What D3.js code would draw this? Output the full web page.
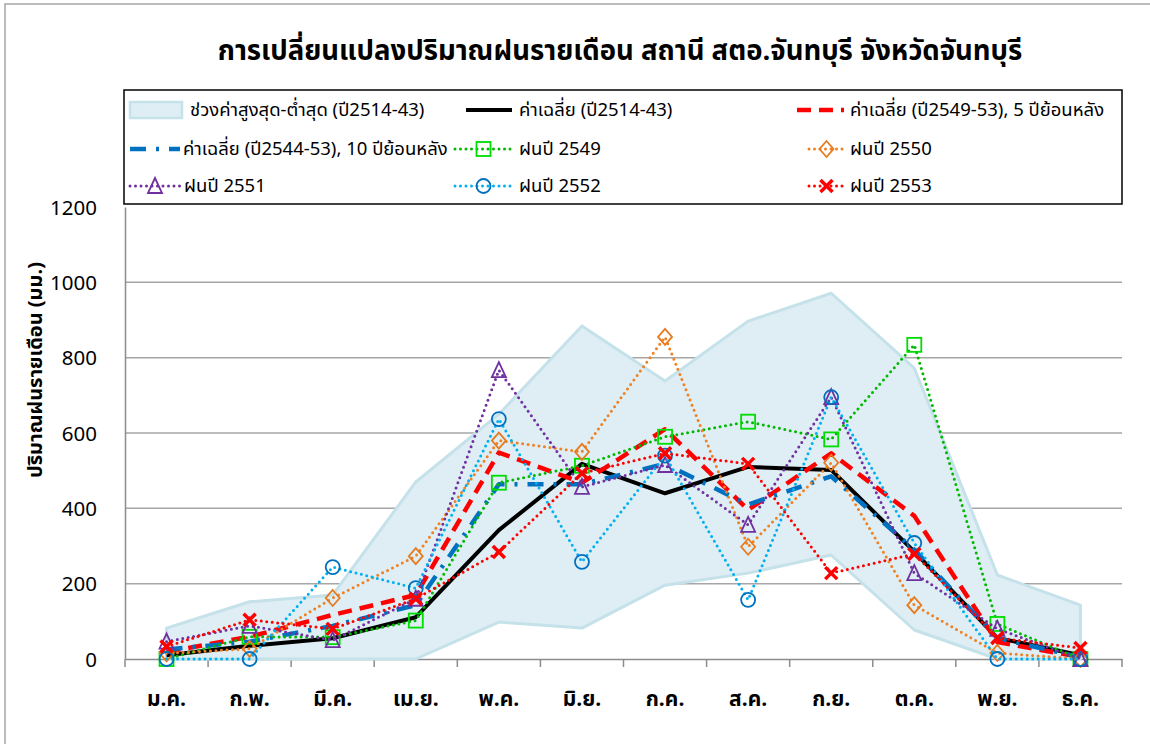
<!DOCTYPE html>
<html>
<head>
<meta charset="utf-8">
<script src="https://cdn.jsdelivr.net/npm/d3@7"></script>
<style>
  html, body { margin: 0; padding: 0; background: #fff; }
  svg text { font-family: Tahoma, "Leelawadee UI", "Noto Sans Thai", "Noto Sans", "DejaVu Sans", sans-serif; fill: #000; }
</style>
</head>
<body>
<svg id="chart" width="1150" height="744"></svg>
<script>
// Monthly rainfall, station สตอ.จันทบุรี (mm)
const months = ["ม.ค.", "ก.พ.", "มี.ค.", "เม.ย.", "พ.ค.", "มิ.ย.", "ก.ค.", "ส.ค.", "ก.ย.", "ต.ค.", "พ.ย.", "ธ.ค."];
const yTicks = [0, 200, 400, 600, 800, 1000, 1200];

const rangeMax = [82, 152, 170, 470, 650, 884, 738, 897, 971, 772, 223, 143];
const rangeMin = [0, 0, 0, 0, 98, 82, 196, 228, 276, 77, 0, 0];
const avg2514_43 = [10, 35, 55, 111, 342, 518, 440, 510, 502, 285, 56, 10];
const avg2549_53 = [19, 59, 117, 170, 548, 468, 610, 396, 546, 380, 45, 5];
const avg2544_53 = [25, 46, 88, 143, 464, 464, 518, 410, 485, 290, 55, 5];
const rain2549 = [0, 59, 58, 102, 468, 513, 590, 630, 583, 834, 93, 0];
const rain2550 = [15, 27, 162, 273, 580, 550, 855, 298, 521, 143, 16, 0];
const rain2551 = [46, 88, 50, 160, 767, 457, 515, 356, 695, 228, 80, 0];
const rain2552 = [0, 0, 244, 188, 637, 258, 540, 157, 695, 308, 0, 0];
const rain2553 = [33, 104, 80, 160, 284, 493, 546, 518, 228, 279, 56, 29];

const svg = d3.select("#chart");

// outer frame
svg.append("rect").attr("x", 5).attr("y", 4).attr("width", 1160).attr("height", 760)
  .attr("fill", "none").attr("stroke", "#a6a6a6").attr("stroke-width", 1.5);

const plot = { left: 125, right: 1122, top: 207, bottom: 659 };

const x = d3.scaleBand().domain(months).range([plot.left, plot.right]).padding(0);
const y = d3.scaleLinear().domain([0, 1200]).range([plot.bottom, plot.top]);
const cx = m => x(m) + x.bandwidth() / 2;

// title
svg.append("text").attr("x", 620).attr("y", 60).attr("text-anchor", "middle")
  .attr("font-size", 27.5).attr("font-weight", "bold")
  .text("การเปลี่ยนแปลงปริมาณฝนรายเดือน สถานี สตอ.จันทบุรี จังหวัดจันทบุรี");

// gridlines
svg.append("g").selectAll("line").data(yTicks.filter(t => t > 0 && t < 1200)).join("line")
  .attr("x1", plot.left).attr("x2", plot.right)
  .attr("y1", d => y(d)).attr("y2", d => y(d))
  .attr("stroke", "#a6a6a6").attr("stroke-width", 1.5);

// y axis
const yAxis = svg.append("g").attr("transform", `translate(${plot.left},0)`)
  .call(d3.axisLeft(y).tickValues(yTicks).tickFormat(d3.format("d")).tickSize(0).tickPadding(28));
yAxis.select(".domain").attr("stroke", "#8c8c8c").attr("stroke-width", 1.5);
yAxis.selectAll("text").attr("font-size", 20.5).attr("font-family", null).attr("dy", "0.35em");

svg.append("text")
  .attr("transform", `translate(42,${(plot.top + plot.bottom) / 2 - 63}) rotate(-90)`)
  .attr("text-anchor", "middle").attr("font-size", 20).attr("font-weight", "bold")
  .text("ปริมาณฝนรายเดือน (มม.)");

// x axis with ticks between months
const xAxis = svg.append("g").attr("transform", `translate(0,${plot.bottom})`)
  .call(d3.axisBottom(x).tickSize(0).tickPadding(32));
xAxis.select(".domain").attr("stroke", "#8c8c8c").attr("stroke-width", 1.5);
xAxis.selectAll("text").attr("font-size", 21).attr("font-weight", "bold").attr("font-family", null);
const edges = months.map(m => x(m)).concat([plot.right]);
svg.append("g").selectAll("line").data(edges).join("line")
  .attr("x1", d => d).attr("x2", d => d).attr("y1", plot.bottom).attr("y2", plot.bottom + 8)
  .attr("stroke", "#8c8c8c").attr("stroke-width", 1.5);

// min-max range band
const area = d3.area().x((d, i) => cx(months[i])).y0((d, i) => y(rangeMin[i])).y1(d => y(d));
svg.append("path").datum(rangeMax).attr("d", area)
  .attr("fill", "#deeef4").attr("stroke", "#c5e1ea").attr("stroke-width", 3).attr("stroke-linejoin", "round");

const line = d3.line().x((d, i) => cx(months[i])).y(d => y(d));

const series = [
  { name: "ค่าเฉลี่ย (ปี2514-43)", data: avg2514_43, color: "#000000", width: 4, dash: null, cap: "butt" },
  { name: "ค่าเฉลี่ย (ปี2549-53), 5 ปีย้อนหลัง", data: avg2549_53, color: "#ff0000", width: 4.5, dash: "14,8", cap: "butt" },
  { name: "ค่าเฉลี่ย (ปี2544-53), 10 ปีย้อนหลัง", data: avg2544_53, color: "#0070c0", width: 4.5, dash: "16,10,3,10", cap: "butt" },
  { name: "ฝนปี 2549", data: rain2549, color: "#00b800", width: 3, dash: "0,5.5", cap: "round", marker: "square", mcolor: "#00dd00" },
  { name: "ฝนปี 2550", data: rain2550, color: "#f08020", width: 3, dash: "0,5.5", cap: "round", marker: "diamond", mcolor: "#e87a1e" },
  { name: "ฝนปี 2551", data: rain2551, color: "#7030a0", width: 3, dash: "0,5.5", cap: "round", marker: "triangle", mcolor: "#7030a0" },
  { name: "ฝนปี 2552", data: rain2552, color: "#00b0f0", width: 3, dash: "0,5.5", cap: "round", marker: "circle", mcolor: "#0070c0" },
  { name: "ฝนปี 2553", data: rain2553, color: "#ff0000", width: 3, dash: "0,5.5", cap: "round", marker: "x", mcolor: "#ff0000" }
];

function drawMarker(g, type, color, px, py) {
  const s = 7;
  if (type === "square") {
    g.append("rect").attr("x", px - s).attr("y", py - s).attr("width", 2 * s).attr("height", 2 * s)
      .attr("fill", "none").attr("stroke", color).attr("stroke-width", 1.8);
  } else if (type === "diamond") {
    g.append("path").attr("d", `M${px},${py - s - 1}L${px + s},${py}L${px},${py + s + 1}L${px - s},${py}Z`)
      .attr("fill", "none").attr("stroke", color).attr("stroke-width", 1.8);
  } else if (type === "triangle") {
    g.append("path").attr("d", `M${px},${py - s - 1}L${px + s},${py + s}L${px - s},${py + s}Z`)
      .attr("fill", "none").attr("stroke", color).attr("stroke-width", 1.8);
  } else if (type === "circle") {
    g.append("circle").attr("cx", px).attr("cy", py).attr("r", s)
      .attr("fill", "none").attr("stroke", color).attr("stroke-width", 1.8);
  } else if (type === "x") {
    g.append("path").attr("d", `M${px - 6},${py - 6}L${px + 6},${py + 6}M${px + 6},${py - 6}L${px - 6},${py + 6}`)
      .attr("stroke", color).attr("stroke-width", 3.5);
  }
}

series.forEach(s => {
  const g = svg.append("g");
  g.append("path").datum(s.data).attr("d", line)
    .attr("fill", "none").attr("stroke", s.color).attr("stroke-width", s.width)
    .attr("stroke-dasharray", s.dash).attr("stroke-linecap", s.cap).attr("stroke-linejoin", "round");
  if (s.marker) {
    s.data.forEach((v, i) => drawMarker(g, s.marker, s.mcolor, cx(months[i]), y(v)));
  }
});

// legend
const lg = svg.append("g");
lg.append("rect").attr("x", 124).attr("y", 90).attr("width", 998).attr("height", 114)
  .attr("fill", "#fff").attr("stroke", "#000").attr("stroke-width", 1.5);

const rows = [110, 149, 186];
const legendItems = [
  { kind: "band", name: "ช่วงค่าสูงสุด-ต่ำสุด (ปี2514-43)", x0: 130, x1: 182, tx: 190, row: 0 },
  { kind: "line", s: series[0], x0: 466, x1: 512, tx: 519, row: 0 },
  { kind: "line", s: series[1], x0: 797, x1: 844, tx: 850, row: 0 },
  { kind: "line", s: series[2], x0: 130, x1: 180, tx: 183, row: 1 },
  { kind: "line", s: series[3], x0: 455, x1: 512, tx: 519, row: 1 },
  { kind: "line", s: series[4], x0: 809, x1: 844, tx: 850, row: 1 },
  { kind: "line", s: series[5], x0: 130, x1: 180, tx: 184, row: 2 },
  { kind: "line", s: series[6], x0: 455, x1: 512, tx: 519, row: 2 },
  { kind: "line", s: series[7], x0: 809, x1: 844, tx: 850, row: 2 }
];

legendItems.forEach(it => {
  const ly = rows[it.row];
  if (it.kind === "band") {
    lg.append("rect").attr("x", it.x0).attr("y", ly - 8).attr("width", it.x1 - it.x0).attr("height", 16)
      .attr("fill", "#deeef4").attr("stroke", "#c5e1ea").attr("stroke-width", 2.5);
  } else {
    const s = it.s;
    lg.append("line").attr("x1", it.x0).attr("x2", it.x1).attr("y1", ly).attr("y2", ly)
      .attr("stroke", s.color).attr("stroke-width", s.width)
      .attr("stroke-dasharray", s.dash).attr("stroke-linecap", s.cap);
    if (s.marker) drawMarker(lg, s.marker, s.mcolor, (it.x0 + it.x1) / 2, ly);
  }
  lg.append("text").attr("x", it.tx).attr("y", ly).attr("dy", "0.35em")
    .attr("font-size", 18.5).text(it.kind === "band" ? it.name : it.s.name);
});
</script>
</body>
</html>
